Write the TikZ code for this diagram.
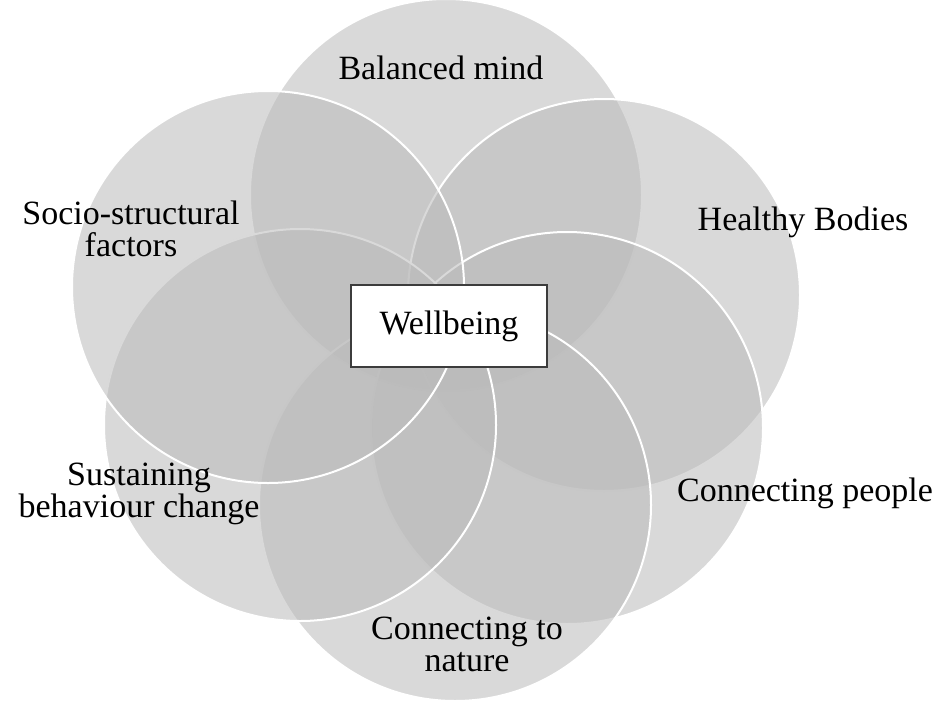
\documentclass[tikz,border=0pt]{standalone}
\usepackage{fontspec}
\setmainfont{Liberation Serif}
\usepackage{xcolor}
\definecolor{petalgrey}{RGB}{186,186,186}
\definecolor{hubline}{RGB}{60,60,60}

\begin{document}
\begin{tikzpicture}[x=0.5pt, y=-0.5pt,
  petal/.style = {shape=circle, minimum size=196pt, inner sep=0pt,
    fill=petalgrey, fill opacity=0.55, draw=white, line width=1pt},
  lbl/.style = {align=center, inner sep=0pt,
    font=\fontsize{17}{16}\selectfont},
  hub/.style = {shape=rectangle, draw=hubline, line width=0.7pt,
    fill=white, minimum width=98pt, minimum height=41pt,
    font=\fontsize{17}{20}\selectfont}]
  \useasboundingbox (0,0) rectangle (940,712);
  % petals, clockwise from the top
  \node[petal] (mind)    at (446,195) {};
  \node[petal] (bodies)  at (604,295) {};
  \node[petal] (people)  at (567,428) {};
  \node[petal] (nature)  at (455,505) {};
  \node[petal] (change)  at (300,425) {};
  \node[petal] (socio)   at (268,287) {};
  % labels
  \node[lbl] (mindtxt)   at (441,68)  {Balanced mind};
  \node[lbl] (bodiestxt) at (803,222) {Healthy Bodies};
  \node[lbl] (peopletxt) at (805,493) {Connecting people};
  \node[lbl] (naturetxt) at (467,644) {Connecting to\\nature};
  \node[lbl] (changetxt) at (139,494) {Sustaining\\behaviour change};
  \node[lbl] (sociotxt)  at (131,229) {Socio-structural\\factors};
  \node[hub] (wellbeing) at (449,326) {Wellbeing};
\end{tikzpicture}
\end{document}
